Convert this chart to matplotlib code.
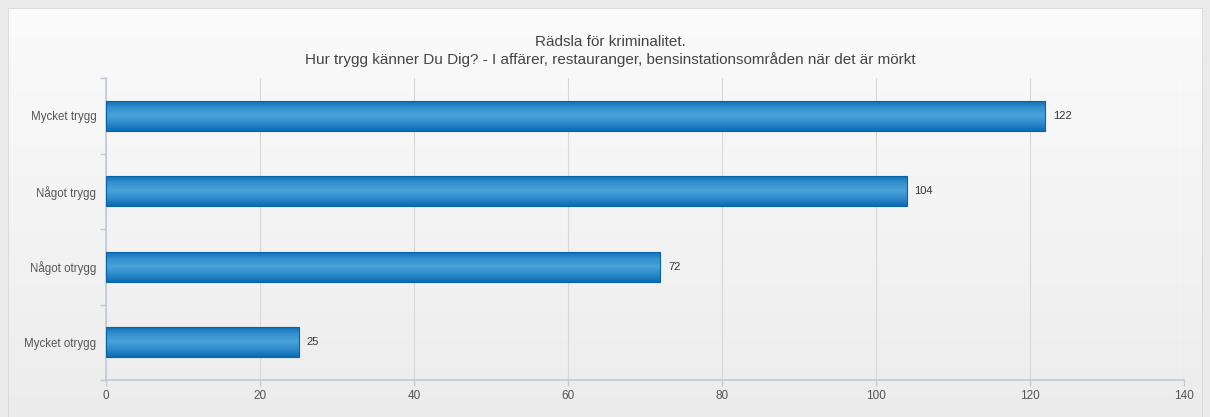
import numpy as np
import matplotlib

matplotlib.use("Agg")
import matplotlib.pyplot as plt
from matplotlib.colors import LinearSegmentedColormap
from matplotlib.patches import Rectangle

plt.rcParams["font.family"] = ["Liberation Sans", "DejaVu Sans"]

# Survey answers, listed top to bottom as drawn
categories = ["Mycket trygg", "Något trygg", "Något otrygg", "Mycket otrygg"]
counts = [122, 104, 72, 25]
x_ticks = [0, 20, 40, 60, 80, 100, 120, 140]

title = ("Rädsla för kriminalitet.\n"
         "Hur trygg känner Du Dig? - I affärer, restauranger, "
         "bensinstationsområden när det är mörkt")

W, H = 1210, 417
fig = plt.figure(figsize=(W / 100, H / 100), dpi=100)
fig.patch.set_facecolor("#ebebeb")

# --- white-to-grey panel behind the chart ---------------------------------
px0, py0, px1 = 8, 8, 1203
panel = fig.add_axes([px0 / W, -0.02, (px1 - px0) / W, 1.02 - py0 / H])
panel_grad = np.linspace(0, 1, 256).reshape(-1, 1)
panel_cmap = LinearSegmentedColormap.from_list("panel", ["#fbfbfb", "#ececec"])
panel.imshow(panel_grad, aspect="auto", cmap=panel_cmap, extent=[0, 1, 0, 1])
panel.add_patch(Rectangle((0, 0), 1, 1, transform=panel.transAxes, fill=False,
                          edgecolor="#d6d6d6", linewidth=1.2))
panel.set_axis_off()

# --- main bar axes ---------------------------------------------------------
left, right, top, bottom = 106, 1184, 78, 380
ax = fig.add_axes([left / W, 1 - bottom / H, (right - left) / W, (bottom - top) / H])
ax.patch.set_alpha(0)

n = len(categories)
y_pos = np.arange(n)[::-1]
bar_h = 0.4

bar_cmap = LinearSegmentedColormap.from_list(
    "bar", ["#0a6cb4", "#3590cf", "#4aa2da", "#2f8acb", "#0a6cb4"])
bar_grad = np.linspace(0, 1, 128).reshape(-1, 1)

bars = ax.barh(y_pos, counts, height=bar_h, facecolor="none",
               edgecolor="#0a62a8", linewidth=0.8, zorder=3)
for bar, y, v in zip(bars, y_pos, counts):
    img = ax.imshow(bar_grad, aspect="auto", cmap=bar_cmap, zorder=2,
                    extent=[0, v, y - bar_h / 2, y + bar_h / 2])
    img.set_clip_path(bar)
    ax.annotate(str(v), xy=(v, y), xytext=(5.5, 0), textcoords="offset points",
                va="center", ha="left", fontsize=8, color="#333333")

ax.set_xlim(0, 140)
ax.set_ylim(-0.5, n - 0.5)
ax.set_xticks(x_ticks)
ax.set_xticklabels([str(t) for t in x_ticks])
ax.set_yticks(y_pos)
ax.set_yticklabels(categories)
ax.tick_params(axis="y", length=0, pad=7, labelsize=8.3, labelcolor="#555555")
ax.tick_params(axis="x", length=4, width=1, color="#c0cad8", pad=3,
               labelsize=8.5, labelcolor="#555555")

# small ticks on the category boundaries
ax.set_yticks(np.arange(n + 1) - 0.5, minor=True)
ax.tick_params(axis="y", which="minor", length=4, width=1, color="#c0cad8")

ax.grid(axis="x", color="#d8d8d8", linewidth=0.8, zorder=0)
ax.set_axisbelow(True)
for side in ("top", "right"):
    ax.spines[side].set_visible(False)
for side in ("left", "bottom"):
    ax.spines[side].set_color("#c0cad8")
    ax.spines[side].set_linewidth(1.2)

fig.text(610 / W, 1 - 51 / H, title, ha="center", va="center",
         fontsize=11, color="#444444", linespacing=1.2)

fig.savefig("out.png", dpi=100, facecolor=fig.get_facecolor())
